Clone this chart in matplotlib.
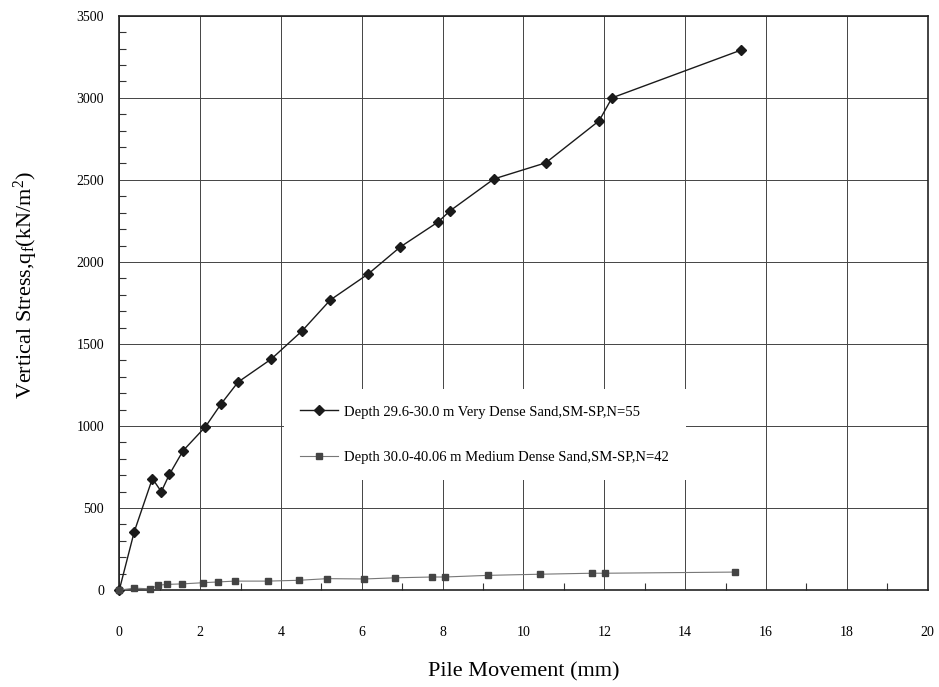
"""
Vertical stress vs pile movement for two sand layers.
"""
import matplotlib.pyplot as plt
from matplotlib.ticker import MultipleLocator

plt.rcParams["font.family"] = ["Liberation Serif", "DejaVu Serif"]
plt.rcParams["mathtext.fontset"] = "custom"
plt.rcParams["mathtext.rm"] = "Liberation Serif"
plt.rcParams["mathtext.it"] = "Liberation Serif:italic"

# Depth 29.6-30.0 m, very dense sand
dense_move = [0.0, 0.37, 0.82, 1.04, 1.24, 1.58, 2.13, 2.52, 2.94, 3.76, 4.52,
              5.22, 6.16, 6.95, 7.89, 8.18, 9.27, 10.55, 11.87, 12.19, 15.37]
dense_stress = [0, 355, 680, 600, 705, 850, 995, 1135, 1268, 1408, 1579,
                1768, 1927, 2091, 2244, 2311, 2506, 2604, 2860, 3000, 3290]

# Depth 30.0-40.06 m, medium dense sand
medium_move = [0.0, 0.37, 0.76, 0.97, 1.18, 1.55, 2.06, 2.45, 2.86, 3.68, 4.44,
               5.15, 6.06, 6.82, 7.74, 8.05, 9.12, 10.42, 11.70, 12.02, 15.22]
medium_stress = [0, 12, 8, 30, 35, 38, 45, 50, 55, 55, 60,
                 70, 68, 75, 80, 80, 90, 97, 103, 103, 110]

LABELS = ["Depth 29.6-30.0 m Very Dense Sand,SM-SP,N=55",
          "Depth 30.0-40.06 m Medium Dense Sand,SM-SP,N=42"]

fig = plt.figure(figsize=(9.39, 6.87), dpi=100)
ax = fig.add_axes([0.127, 0.141, 0.861, 0.836])

ax.plot(dense_move, dense_stress, color="#1a1a1a", linewidth=1.0,
        marker="D", markersize=5, markerfacecolor="#1a1a1a",
        markeredgecolor="#1a1a1a", clip_on=False, zorder=4, label=LABELS[0])
ax.plot(medium_move, medium_stress, color="#777777", linewidth=0.8,
        marker="s", markersize=5, markerfacecolor="#444444",
        markeredgecolor="#444444", clip_on=False, zorder=4, label=LABELS[1])

ax.set_xlim(0, 20)
ax.set_ylim(0, 3500)
ax.xaxis.set_major_locator(MultipleLocator(2))
ax.xaxis.set_minor_locator(MultipleLocator(1))
ax.yaxis.set_major_locator(MultipleLocator(500))
ax.yaxis.set_minor_locator(MultipleLocator(100))

ax.grid(True, which="major", color="#444444", linewidth=0.7)
ax.tick_params(which="major", direction="in", length=0, labelsize=10)
ax.tick_params(axis="x", which="major", pad=26)
ax.tick_params(axis="y", which="major", pad=11)
ax.tick_params(which="minor", direction="in", length=5, width=0.8,
               color="#333333")
for sp in ax.spines.values():
    sp.set_linewidth(1.2)
    sp.set_color("#222222")

ax.set_xlabel("Pile Movement (mm)", fontsize=16)
ax.set_ylabel(r"Vertical Stress,q$_{\mathrm{f}}$(kN/m$^{2}$)", fontsize=16)
ax.xaxis.set_label_coords(0.5, -0.125)
ax.yaxis.set_label_coords(-0.098, 0.531)

leg = ax.legend(loc="lower left", bbox_to_anchor=(0.204, 0.192, 0.497, 0.156),
                mode="expand", borderaxespad=0, fontsize=10.5, frameon=True,
                fancybox=False, facecolor="white", edgecolor="none",
                framealpha=1, handlelength=2.6, handletextpad=0.4,
                labelspacing=2.2, borderpad=1.1)
leg.set_zorder(3)

fig.savefig("out.png", dpi=100)
